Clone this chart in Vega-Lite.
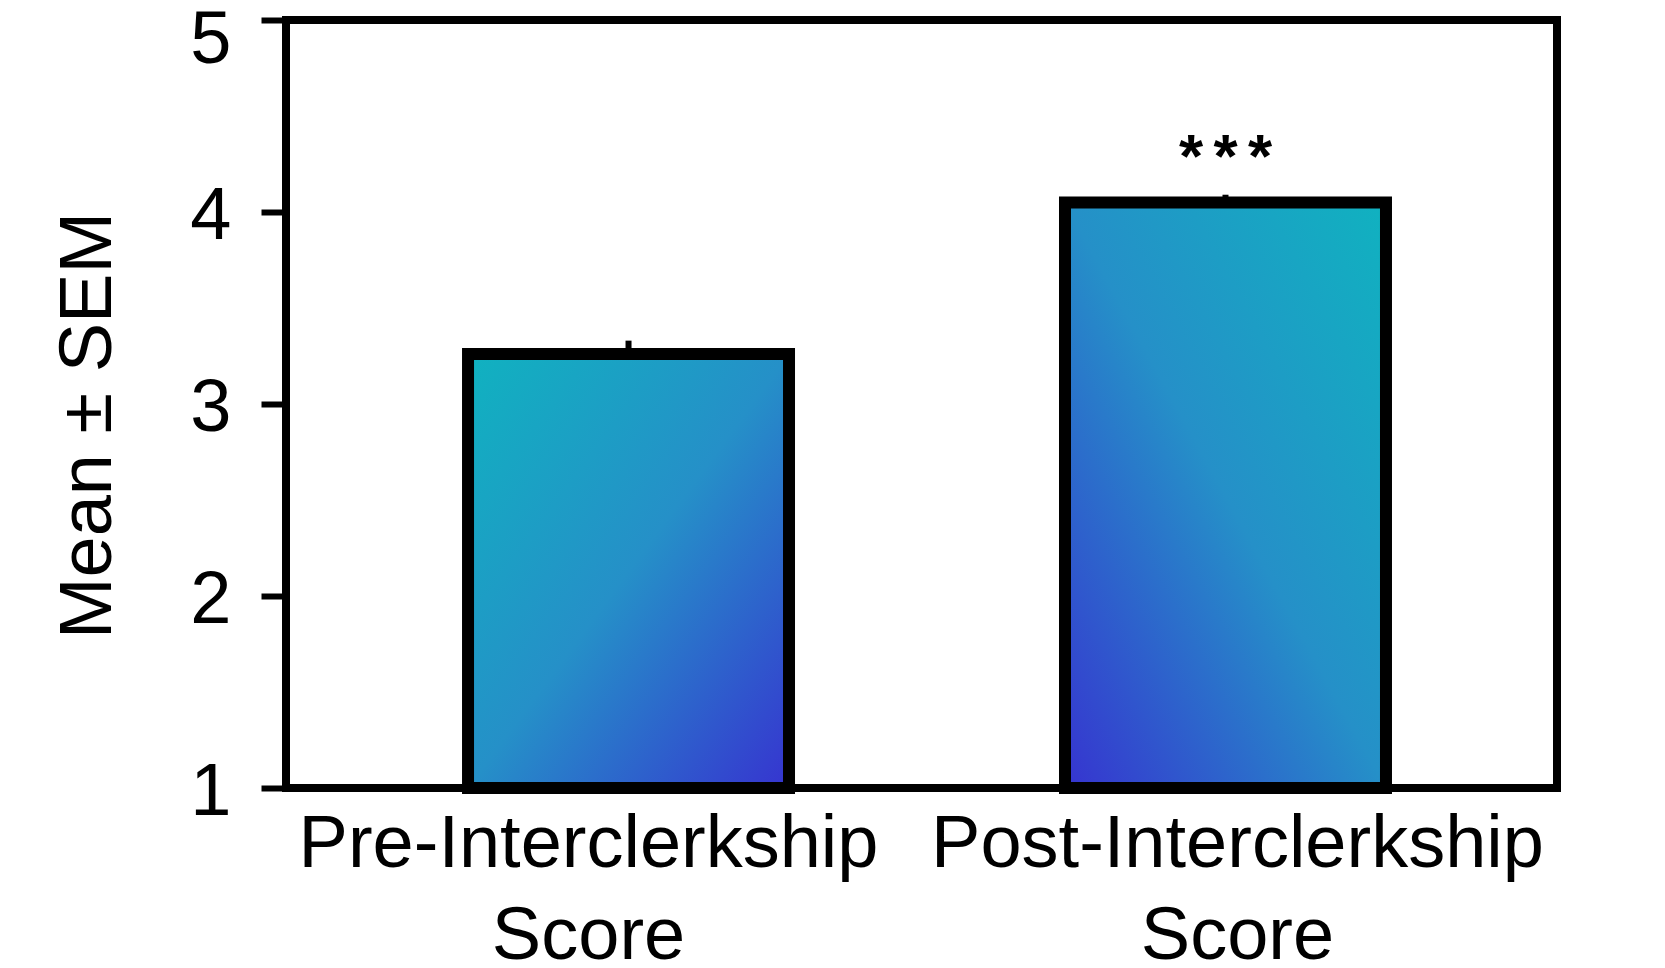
{
  "$schema": "https://vega.github.io/schema/vega-lite/v6.json",
  "width": 1271,
  "height": 768,
  "autosize": {"type": "none"},
  "padding": {"left": 286, "top": 20, "right": 108, "bottom": 180},
  "background": "white",
  "config": {
    "view": {"stroke": "black", "strokeWidth": 8},
    "font": "Liberation Sans"
  },
  "data": {
    "values": [
      {"group": "Pre-Interclerkship Score", "mean": 3.26, "hi": 3.33, "sig": ""},
      {"group": "Post-Interclerkship Score", "mean": 4.05, "hi": 4.09, "sig": "*\u2006*\u2006*"}
    ]
  },
  "encoding": {
    "x": {
      "field": "group",
      "type": "nominal",
      "sort": null,
      "scale": {"paddingInner": 0.4623, "paddingOuter": 0.2957, "align": 0.5156},
      "axis": {
        "title": null,
        "domain": false,
        "ticks": false,
        "tickSize": 0,
        "labelFontSize": 74,
        "labelColor": "black",
        "labelAngle": 0,
        "labelPadding": 20,
        "labelLineHeight": 92,
        "labelBaseline": "top",
        "labelLimit": 2000,
        "labelExpr": "split(datum.label, ' ')",
        "labelOffset": {"condition": {"test": "datum.value == 'Pre-Interclerkship Score'", "value": -40}, "value": 12}
      }
    }
  },
  "layer": [
    {
      "mark": {"type": "rule", "strokeWidth": 6, "color": "black"},
      "encoding": {
        "y": {
          "field": "mean",
          "type": "quantitative",
          "title": "Mean ± SEM",
          "scale": {"domain": [1, 5], "nice": false, "zero": false},
          "axis": {
            "values": [1, 2, 3, 4, 5],
            "format": "d",
            "domain": false,
            "grid": false,
            "ticks": true,
            "tickSize": 25,
            "tickWidth": 6,
            "tickColor": "black",
            "labelFontSize": 74,
            "labelColor": "black",
            "labelPadding": 30,
            "labelFlush": false,
            "labelOverlap": false,
            "labelBound": false,
            "labelOffset": {"condition": {"test": "datum.value == 5", "value": 20}, "value": 4},
            "titleFontSize": 74,
            "titleFontWeight": "normal",
            "titleColor": "black",
            "titleX": -176,
            "titleY": 405,
            "titleAngle": -90,
            "titleAlign": "center",
            "titleBaseline": "alphabetic"
          }
        },
        "y2": {"field": "hi"}
      }
    },
    {
      "transform": [{"filter": "datum.group == 'Pre-Interclerkship Score'"}],
      "mark": {
        "type": "bar",
        "stroke": "black",
        "strokeWidth": 12,
        "fill": {
          "gradient": "linear", "x1": 0, "y1": 0, "x2": 1, "y2": 1,
          "stops": [
            {"offset": 0, "color": "#10b2c0"},
            {"offset": 0.5, "color": "#2590c8"},
            {"offset": 1, "color": "#3634d0"}
          ]
        }
      },
      "encoding": {
        "y": {"field": "mean", "type": "quantitative", "title": "Mean ± SEM"},
        "y2": {"datum": 1}
      }
    },
    {
      "transform": [{"filter": "datum.group == 'Post-Interclerkship Score'"}],
      "mark": {
        "type": "bar",
        "stroke": "black",
        "strokeWidth": 12,
        "fill": {
          "gradient": "linear", "x1": 1, "y1": 0, "x2": 0, "y2": 1,
          "stops": [
            {"offset": 0, "color": "#10b2c0"},
            {"offset": 0.5, "color": "#2590c8"},
            {"offset": 1, "color": "#3634d0"}
          ]
        }
      },
      "encoding": {
        "y": {"field": "mean", "type": "quantitative", "title": "Mean ± SEM"},
        "y2": {"datum": 1}
      }
    },
    {
      "mark": {"type": "text", "fontSize": 62, "fontWeight": "bold", "baseline": "alphabetic", "align": "center", "dy": -18, "color": "black"},
      "encoding": {
        "y": {"field": "hi", "type": "quantitative", "title": "Mean ± SEM"},
        "text": {"field": "sig"}
      }
    }
  ]
}
